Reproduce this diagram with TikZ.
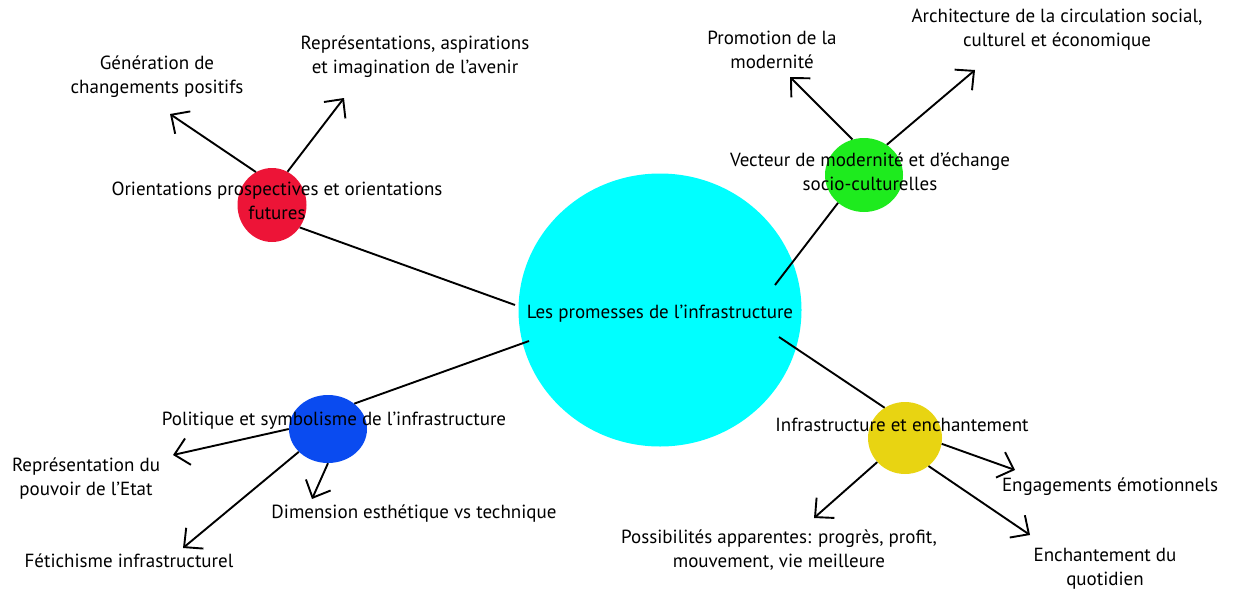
\documentclass[tikz,border=0pt]{standalone}
\usepackage{fontspec}
\setmainfont{PT Sans}
\usetikzlibrary{shapes.geometric,arrows.meta}
\definecolor{cred}{RGB}{237,20,55}
\definecolor{cgreen}{RGB}{30,235,30}
\definecolor{cblue}{RGB}{10,75,240}
\definecolor{cyel}{RGB}{232,212,18}
\definecolor{ccyan}{RGB}{0,255,255}
\begin{document}
\begin{tikzpicture}[x=1pt,y=-1pt,
  blob/.style={ellipse,draw=none,inner sep=0pt},
  lbl/.style={align=center,inner sep=0pt,font=\fontsize{19}{24}\selectfont},
  conn/.style={line width=1.9pt},
  arr/.style={line width=1.9pt,-{Straight Barb[length=14pt,width=27pt]}}
]
\useasboundingbox (0,0) rectangle (1233,594);
% circles
\node[blob,fill=ccyan,minimum width=283pt,minimum height=273pt] (cyan) at (660,310) {};
\node[blob,fill=cred,minimum width=69pt,minimum height=74pt] (red) at (272,205) {};
\node[blob,fill=cgreen,minimum width=78pt,minimum height=74pt] (green) at (864,175) {};
\node[blob,fill=cblue,minimum width=78pt,minimum height=68pt] (blue) at (328,429) {};
\node[blob,fill=cyel,minimum width=74pt,minimum height=72pt] (yel) at (905,438) {};
% connector ends inside the big circle
\coordinate (cR) at (515,305);
\coordinate (cB) at (529,341);
\coordinate (cG) at (775,285);
\coordinate (cY) at (779,337);
% arrow tips
\coordinate (tGen) at (170,114);
\coordinate (tRep) at (344,98);
\coordinate (tProm) at (790,77);
\coordinate (tArch) at (975,70);
\coordinate (tEtat) at (173,455);
\coordinate (tFet) at (183,548);
\coordinate (tDim) at (312,499);
\coordinate (tEng) at (1015,470);
\coordinate (tEnch) at (1030,535);
\coordinate (tPoss) at (814,518);
% connectors
\draw[conn] (red.-39) -- (cR);
\draw[conn] (blue.44) -- (cB);
\draw[conn] (green.227) -- (cG);
\draw[conn] (cY) -- (yel.124);
% arrows
\draw[arr] (red.116) -- (tGen);
\draw[arr] (red.65) -- (tRep);
\draw[arr] (green.108) -- (tProm);
\draw[arr] (green.53) -- (tArch);
\draw[arr] (blue.180) -- (tEtat);
\draw[arr] (blue.218) -- (tFet);
\draw[arr] (blue.270) -- (tDim);
\draw[arr] (yel.-9) -- (tEng);
\draw[arr] (yel.-50) -- (tEnch);
\draw[arr] (yel.221) -- (tPoss);
% labels
\node[lbl] (lGen) at (157,77) {Génération de\\changements positifs};
\node[lbl] (lRep) at (415,57) {Représentations, aspirations\\et imagination de l’avenir};
\node[lbl] (lOri) at (277,201) {Orientations prospectives et orientations\\futures};
\node[lbl] (lProm) at (772,50) {Promotion de la\\modernité};
\node[lbl] (lArch) at (1057,30) {Architecture de la circulation social,\\culturel et économique};
\node[lbl] (lVec) at (870,172) {Vecteur de modernité et d’échange\\socio-culturelles};
\node[lbl] (lLes) at (660,314) {Les promesses de l’infrastructure};
\node[lbl] (lPol) at (334,421) {Politique et symbolisme de l’infrastructure};
\node[lbl] (lEtat) at (86,479) {Représentation du\\pouvoir de l’Etat};
\node[lbl] (lDim) at (414,514) {Dimension esthétique vs technique};
\node[lbl] (lFet) at (129,561) {Fétichisme infrastructurel};
\node[lbl] (lInf) at (902,425) {Infrastructure et enchantement};
\node[lbl] (lEng) at (1110,487) {Engagements émotionnels};
\node[lbl] (lPoss) at (779,550) {Possibilités apparentes: progrès, profit,\\mouvement, vie meilleure};
\node[lbl] (lEnch) at (1105,569) {Enchantement du\\quotidien};
\end{tikzpicture}
\end{document}
